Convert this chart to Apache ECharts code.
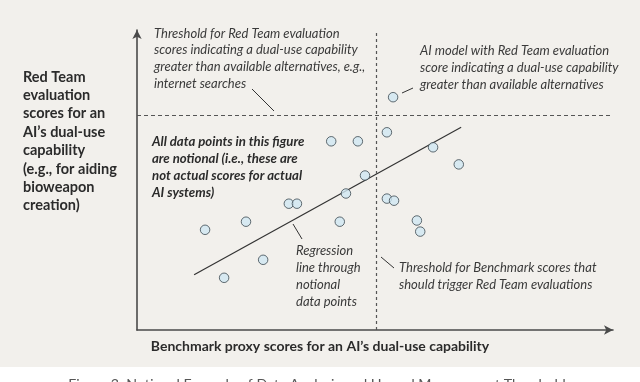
<!DOCTYPE html>
<html><head><meta charset="utf-8">
<script src="https://cdn.jsdelivr.net/npm/echarts@6/dist/echarts.min.js"></script>
<style>html,body{margin:0;padding:0;background:#fff}#c{width:640px;height:382px}</style>
</head><body><div id="c"></div>
<script>
// Notional scores (abstract 0-100 units)
const benchmarkScores = [53.8,52.5,40.8,46.4,62.2,67.6,47.9,43.9,52.5,54.0,42.6,58.8,59.5,14.3,22.9,31.9,33.6,26.5,18.3];
const redTeamScores   = [77.6,65.9,62.9,62.9,60.9,55.2,51.5,45.5,43.8,43.1,36.1,36.5,32.8,33.4,36.1,42.1,42.1,23.4,17.4];
const regressionX = [12.0, 68.1];
const regressionY = [18.4, 67.6];
const redTeamThreshold = 71.6;
const benchmarkThreshold = 50.2;

const yLabel = "Red Team\nevaluation\nscores for an\nAI’s dual-use\ncapability\n(e.g., for aiding\nbioweapon\ncreation)";
const xLabel = "Benchmark proxy scores for an AI’s dual-use capability";
const noteRedThreshold = "Threshold for Red Team evaluation\nscores indicating a dual-use capability\ngreater than available alternatives, e.g.,\ninternet searches";
const noteModel = "AI model with Red Team evaluation\nscore indicating a dual-use capability\ngreater than available alternatives";
const noteNotional = "All data points in this figure\nare notional (i.e., these are\nnot actual scores for actual\nAI systems)";
const noteRegression = "Regression\nline through\nnotional\ndata points";
const noteBenchThreshold = "Threshold for Benchmark scores that\nshould trigger Red Team evaluations";
const caption = "Figure 3: Notional Example of Data Analysis and Hazard Management Thresholds";

const FONT = "Lato";
const points = benchmarkScores.map((x,i)=>[x, redTeamScores[i]]);
const regLine = regressionX.map((x,i)=>[x, regressionY[i]]);

const chart = echarts.init(document.getElementById('c'), null, {renderer:'canvas'});
const ink = '#2b2b2b';
const note = '#3a3a3a';
function txt(text, x, y, opts){
  return {type:'text', left:x, top:y, z:100, style:Object.assign({text:text, fill:note, fontFamily:FONT, fontSize:13, fontStyle:'italic', lineHeight:16.8}, opts||{})};
}
function seg(x1,y1,x2,y2){
  return {type:'line', z:100, shape:{x1:x1,y1:y1,x2:x2,y2:y2}, style:{stroke:'#333', lineWidth:1}};
}
chart.setOption({
  backgroundColor:'#ffffff',
  animation:false,
  grid:{left:137, right:27, top:30, bottom:52},
  xAxis:{type:'value', min:0, max:100, splitLine:{show:false}, axisTick:{show:false}, axisLabel:{show:false},
    axisLine:{show:true, onZero:false, symbol:['none','arrow'], symbolSize:[7,9], lineStyle:{color:'#4a4a4a', width:1.6}}},
  yAxis:{type:'value', min:0, max:100, splitLine:{show:false}, axisTick:{show:false}, axisLabel:{show:false},
    axisLine:{show:true, onZero:false, symbol:['none','arrow'], symbolSize:[7,9], lineStyle:{color:'#4a4a4a', width:1.6}}},
  graphic:[
    {type:'rect', z:-10, shape:{x:0,y:0,width:640,height:367}, style:{fill:'#f2f0ec'}},
    txt(yLabel, 23, 67.8, {fontStyle:'normal', fontWeight:'bold', fontSize:14.5, lineHeight:18.4, fill:ink}),
    {type:'text', left:'center', top:339, z:100, style:{text:xLabel, fill:ink, fontFamily:FONT, fontWeight:'bold', fontSize:14}},
    {type:'text', left:'center', top:377, z:100, style:{text:caption, fill:'#555', fontFamily:FONT, fontSize:14.2}},
    txt(noteRedThreshold, 154, 25),
    txt(noteModel, 420, 42.6),
    txt(noteNotional, 152, 133.5, {fontWeight:'bold', fill:ink, lineHeight:17, fontSize:13.2}),
    txt(noteRegression, 296, 242.5, {lineHeight:16.9}),
    txt(noteBenchThreshold, 399, 259, {lineHeight:17.3}),
    seg(252,89,274,111),
    seg(402,93,413,88),
    seg(293,224,302,239),
    seg(381,257,394,268)
  ],
  series:[
    {type:'line', data:regLine, symbol:'none', lineStyle:{color:'#333', width:1.2}, z:3,
      markLine:{silent:true, symbol:'none', label:{show:false},
        data:[{yAxis:redTeamThreshold, lineStyle:{type:[4,3], color:'#555', width:1}},
              {xAxis:benchmarkThreshold, lineStyle:{type:[3,3], color:'#555', width:1.2}}]}},
    {type:'scatter', data:points, symbol:'circle', symbolSize:9.5, z:5,
      itemStyle:{color:'#cfe7f3', borderColor:'#3c4950', borderWidth:1}}
  ]
});
</script></body></html>
